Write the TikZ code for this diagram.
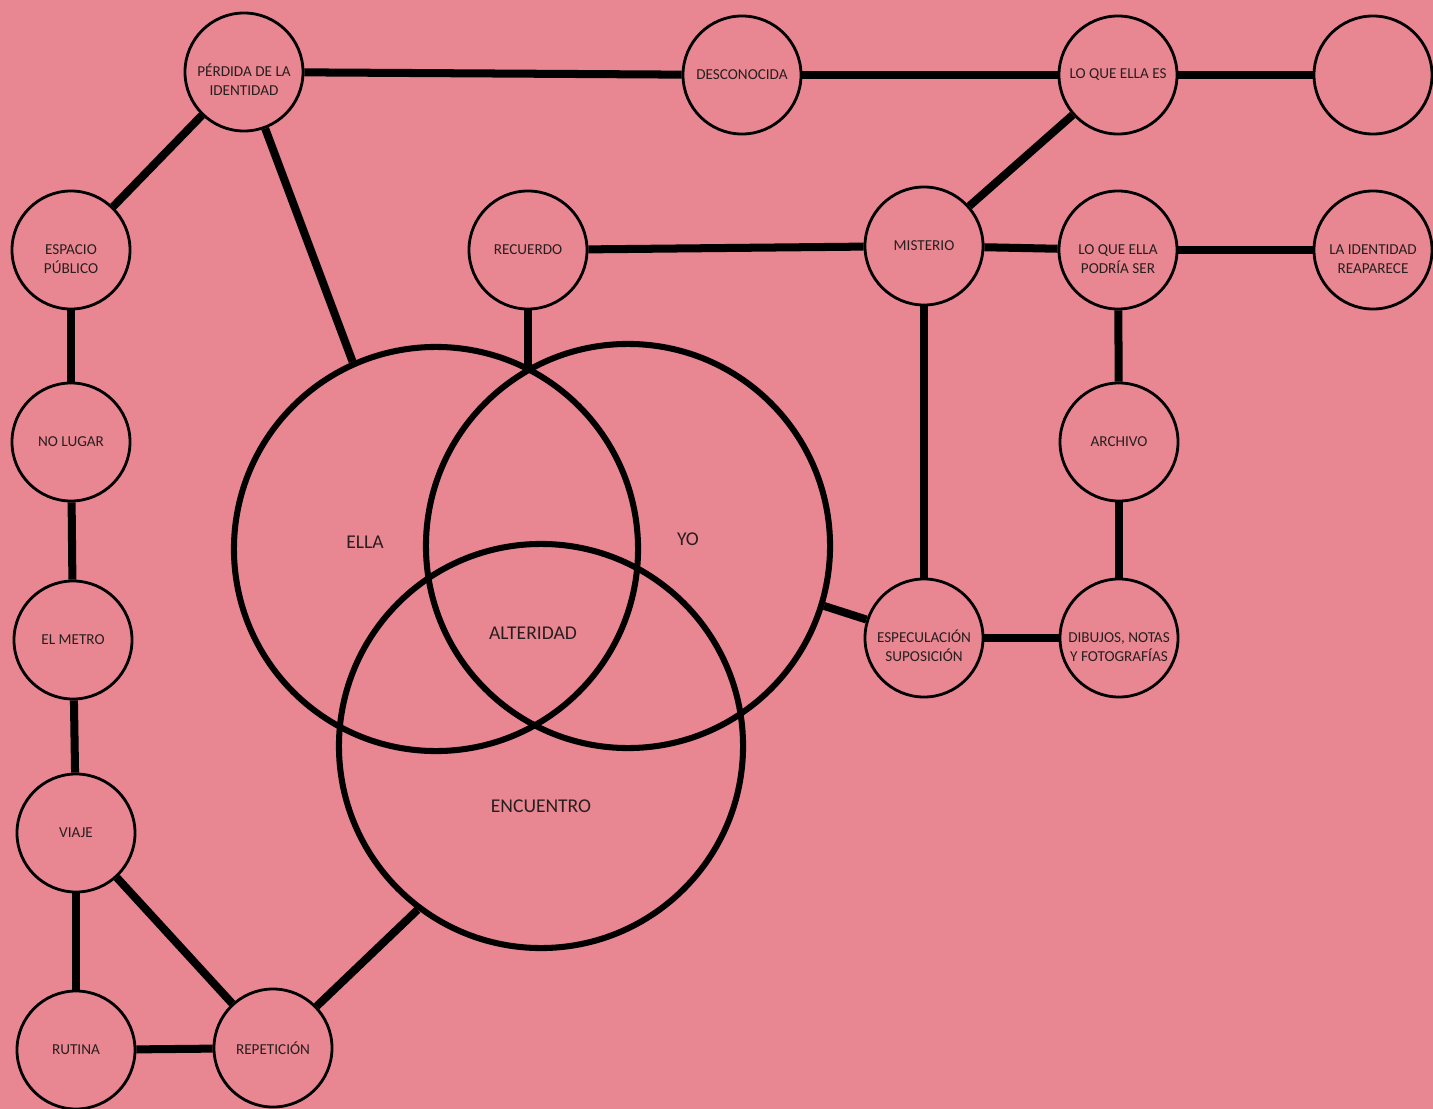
\documentclass[tikz,border=0pt]{standalone}
\usepackage{fontspec}
\setmainfont{Carlito}
\usepackage{tikz}
\usetikzlibrary{calc}
\definecolor{rosa}{RGB}{232,135,145}
\definecolor{tinta}{RGB}{40,30,32}

\begin{document}
\begin{tikzpicture}[x=0.025cm,y=-0.025cm,
  bubble/.style={circle,draw,line width=2pt,inner sep=0pt,minimum size=2.95cm,
    align=center,text=tinta,font=\fontsize{10.8}{13}\selectfont},
  pair/.style={text height=33pt},
  bigc/.style={circle,draw,line width=4.3pt,inner sep=0pt,minimum size=10.1cm},
  bigt/.style={text=tinta,font=\fontsize{13.9}{16}\selectfont},
  link/.style={line width=5.7pt}]

\fill[rosa] (0,0) rectangle (1433,1109);
\useasboundingbox (0,0) rectangle (1433,1109);

% big circles
\node[bigc] (ella) at (436,549) {};
\node[bigc] (yo) at (628,546) {};
\node[bigc] (enc) at (541,746) {};
\node[bigt] (ellat) at (365,542) {ELLA};
\node[bigt] (yot) at (688,539) {YO};
\node[bigt] (altt) at (533,633) {ALTERIDAD};
\node[bigt] (enct) at (541,806) {ENCUENTRO};

% top row
\node[bubble,pair] (perd) at (244,72) {PÉRDIDA DE LA\\IDENTIDAD};
\node[bubble] (desc) at (742,75) {DESCONOCIDA};
\node[bubble] (es) at (1118,75) {LO QUE ELLA ES};
\node[bubble] (vacio) at (1373,75) {};

% second row
\node[bubble,pair] (esp) at (71,250) {ESPACIO\\PÚBLICO};
\node[bubble] (rec) at (528,250) {RECUERDO};
\node[bubble] (mis) at (924,246) {MISTERIO};
\node[bubble,pair] (pod) at (1118,250) {LO QUE ELLA\\PODRÍA SER};
\node[bubble,pair] (reap) at (1373,250) {LA IDENTIDAD\\REAPARECE};

% left column
\node[bubble] (nol) at (71,442) {NO LUGAR};
\node[bubble] (met) at (73,640) {EL METRO};
\node[bubble] (via) at (76,833) {VIAJE};
\node[bubble] (rut) at (76,1050) {RUTINA};
\node[bubble] (rep) at (273,1048) {REPETICIÓN};

% right side
\node[bubble] (arc) at (1119,442) {ARCHIVO};
\node[bubble,pair] (spec) at (924,638) {ESPECULACIÓN\\SUPOSICIÓN};
\node[bubble,pair] (dib) at (1119,638) {DIBUJOS, NOTAS\\Y FOTOGRAFÍAS};

\path[link] (perd) edge (desc) (desc) edge (es) (es) edge (vacio)
  (perd) edge (esp) (perd) edge (ella.114)
  (rec) edge (mis) (mis) edge (es) (mis) edge (pod) (pod) edge (reap)
  (pod) edge (arc) (arc) edge (dib) (mis) edge (spec) (spec) edge (dib)
  (yo.-17) edge (spec)
  (esp) edge (nol) (nol) edge (met) (met) edge (via) (via) edge (rut)
  (via) edge (rep) (rut) edge (rep) (rep) edge (enc.233);

\draw[link] (rec.south) -- (rec.south |- ella.63);

\end{tikzpicture}
\end{document}
